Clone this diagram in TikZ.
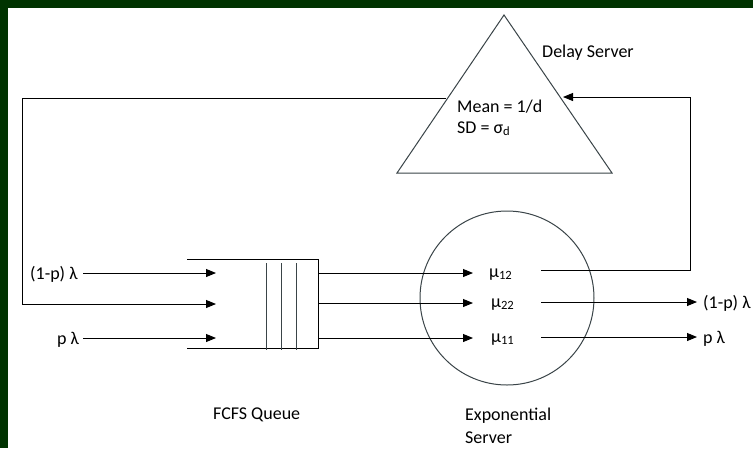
\documentclass[tikz,border=0pt]{standalone}
\usepackage{fontspec}
\setmainfont{Carlito}
\usetikzlibrary{arrows.meta}
\definecolor{framegreen}{HTML}{003300}
\definecolor{shapegray}{HTML}{3a4448}
\begin{document}
\begin{tikzpicture}[x=1pt,y=-1pt,
  lbl/.style={inner sep=0pt, anchor=base west, font=\fontsize{18}{22}\selectfont},
  ln/.style={draw=black, line width=0.9pt},
  arr/.style={ln, -{Triangle[length=10pt,width=8pt]}},
  shp/.style={draw=shapegray, line width=1pt}]
\useasboundingbox (0,0) rectangle (753,448);
\fill[white] (0,0) rectangle (753,448);
\fill[framegreen] (0,0) rectangle (753,8);
\fill[framegreen] (0,0) rectangle (8,448);

% delay server (triangle)
\coordinate (apex) at (504,15);
\coordinate (tbl) at (397,173);
\coordinate (tbr) at (612,173);
\draw[shp] (apex) -- (tbl) -- (tbr) -- cycle;
\node[lbl] (delay) at (542,57) {Delay Server};
\node[lbl] (mean) at (457,112) {Mean = 1/d};
\node[lbl] (sd) at (457,133) {SD = σ\textsubscript{d}};

% exponential server (circle)
\node[circle, shp, minimum size=174pt, inner sep=0pt] (srv) at (507,298) {};
\node[lbl] (mu12) at (489,277) {μ\textsubscript{12}};
\node[lbl] (mu22) at (491,307) {μ\textsubscript{22}};
\node[lbl] (mu11) at (491,342) {μ\textsubscript{11}};

% FCFS queue
\coordinate (qtl) at (187,259);
\coordinate (qtr) at (318,259);
\coordinate (qbl) at (187,348);
\coordinate (qbr) at (318,348);
\draw[ln] (qtl) -- (qtr) -- (qbr) -- (qbl);
\foreach \x/\n in {266/a,281/b,296/c}{
  \coordinate (v\n t) at (\x,263);
  \coordinate (v\n b) at (\x,350);
  \draw[shp] (v\n t) -- (v\n b);
}

% input labels and arrows
\node[lbl] (in1) at (30,279) {(1-p) λ};
\node[lbl] (in3) at (57,344) {p λ};
\coordinate (a1) at (83,273);
\coordinate (a3) at (83,338);
\coordinate (q1in) at (216,273);
\coordinate (q2in) at (216,304);
\coordinate (q3in) at (216,338);
\draw[arr] (a1) -- (q1in);
\draw[arr] (a3) -- (q3in);

% queue to server
\coordinate (q1out) at (318,273);
\coordinate (q2out) at (318,303);
\coordinate (q3out) at (318,338);
\coordinate (s1in) at (473,273);
\coordinate (s2in) at (473,303);
\coordinate (s3in) at (473,338);
\draw[arr] (q1out) -- (s1in);
\draw[arr] (q2out) -- (s2in);
\draw[arr] (q3out) -- (s3in);

% server outputs
\coordinate (o1) at (541,270);
\coordinate (o2) at (541,302);
\coordinate (o3) at (541,337);
\coordinate (c3) at (690,270);
\coordinate (c4) at (690,97);
\coordinate (fbR) at (563,97);
\draw[arr] (o1) -- (c3) -- (c4) -- (fbR);
\coordinate (e2) at (697,302);
\coordinate (e3) at (697,337);
\draw[arr] (o2) -- (e2);
\draw[arr] (o3) -- (e3);
\node[lbl] (out2) at (703,308) {(1-p) λ};
\node[lbl] (out3) at (703,343) {p λ};

% feedback from delay server to queue
\coordinate (fbL) at (446,98);
\coordinate (c1) at (22,98);
\coordinate (c2) at (22,304);
\draw[arr] (fbL) -- (c1) -- (c2) -- (q2in);

% captions
\node[lbl] (fcfs) at (213,419) {FCFS Queue};
\node[lbl] (expo) at (465,420) {Exponential};
\node[lbl] (expo2) at (465,443) {Server};
\end{tikzpicture}
\end{document}
